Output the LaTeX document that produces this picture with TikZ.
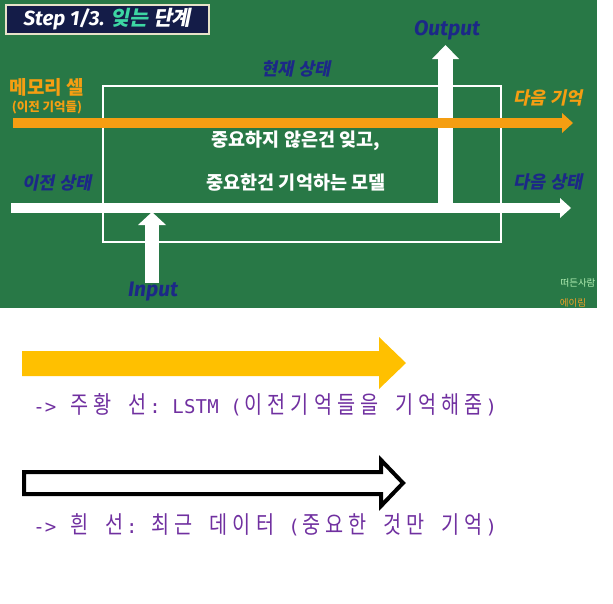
\documentclass[tikz,border=0pt]{standalone}
\usepackage{fontspec}
\usepackage{graphicx}
\setmainfont{Noto Sans CJK KR}
\newfontfamily\krfont{Noto Sans CJK KR}
\newfontfamily\krsl{Noto Sans CJK KR}[FakeSlant=0.2]
\newfontfamily\latfont{Fira Sans}
\newfontfamily\mfont{DejaVu Sans Mono}
\usetikzlibrary{arrows.meta}
\definecolor{board}{RGB}{40,120,70}
\definecolor{navylbl}{RGB}{28,40,135}
\definecolor{orangelbl}{RGB}{245,158,18}
\definecolor{titlenavy}{RGB}{20,28,72}
\definecolor{cream}{RGB}{230,226,200}
\definecolor{tealtxt}{RGB}{61,214,163}
\definecolor{legyellow}{RGB}{255,192,0}
\definecolor{legpurple}{RGB}{112,48,160}
\definecolor{wmgreen}{RGB}{180,240,180}
\definecolor{wmorange}{RGB}{240,160,40}
\newdimen\mtxw \mtxw=11.6pt
\makeatletter
\def\mtx@end{\mtx@end}
\def\mtx#1{\mtx@loop#1\mtx@end}
\def\mtx@loop#1{\ifx\mtx@end#1\else\mtx@char{#1}\expandafter\mtx@loop\fi}
\def\mtx@char#1{\ifnum`#1>255 \hbox to 2\mtxw{\hss\scalebox{0.82}[1]{\krfont\fontsize{24}{24}\selectfont#1}\hss}\else\hbox to \mtxw{\hss\mfont\fontsize{19}{19}\selectfont#1\hss}\fi}
\makeatother
\tikzset{
  navytag/.style={text=navylbl, inner sep=0pt, font=\krsl\bfseries\fontsize{17.5}{18}\selectfont},
  orangetag/.style={text=orangelbl, inner sep=0pt, font=\krsl\bfseries\fontsize{17.5}{18}\selectfont},
  ionode/.style={text=navylbl, inner sep=0pt, font=\latfont\bfseries\itshape\fontsize{21}{22}\selectfont},
  centertxt/.style={text=white, inner sep=0pt, font=\krfont\bfseries\fontsize{18.5}{19}\selectfont},
  harrow/.style={line width=10pt, -{Triangle[length=11pt,width=20pt,line width=0pt]}},
  legtxt/.style={text=legpurple, inner sep=0pt, anchor=base west}
}
\begin{document}
\begin{tikzpicture}[x=1pt,y=-1pt]
\useasboundingbox (0,0) rectangle (613,603);
% board
\fill[board] (0,0) rectangle (597,308);
% title
\node[draw=cream, line width=1.5pt, fill=titlenavy, minimum width=203pt, minimum height=29pt, inner sep=0pt, anchor=north west, text=white,
  font=\fontsize{20.5}{21}\selectfont] (title) at (5,4)
  {{\latfont\bfseries\itshape Step 1/3. }{\krsl\bfseries\color{tealtxt}잊는} {\krsl\bfseries 단계}};
% LSTM cell frame
\node[draw=white, line width=2pt, minimum width=398pt, minimum height=156pt, inner sep=0pt, anchor=north west] (cell) at (102,85) {};
% coordinates of arrows
\coordinate (os) at (445.5,203);
\coordinate (oe) at (445.5,45);
\coordinate (hs) at (11,208);
\coordinate (he) at (571,208);
\coordinate (is) at (152,283);
\coordinate (ie) at (152,212);
\coordinate (ms) at (13,123);
\coordinate (me) at (573,123);
% arrows
\draw[white, line width=15pt, -{Triangle[length=14pt,width=27pt,line width=0pt]}] (os) -- (oe);
\draw[white, harrow] (hs) -- (he);
\draw[white, line width=14pt, -{Triangle[length=13pt,width=28pt,line width=0pt]}] (is) -- (ie);
\draw[orangelbl, harrow] (ms) -- (me);
% labels
\node[text=orangelbl, inner sep=0pt, font=\krfont\bfseries\fontsize{19}{19}\selectfont] (memcell) at (47,87) {메모리 셀};
\node[text=orangelbl, inner sep=0pt, font=\krfont\bfseries\fontsize{12.5}{13}\selectfont] (prevmem) at (47,107) {(이전 기억들)};
\node[navytag] (curstate) at (296,69) {현재 상태};
\node[ionode] (output) at (447,30) {Output};
\node[orangetag] (nextmem) at (548,98) {다음 기억};
\node[navytag] (prevstate) at (57,183) {이전 상태};
\node[navytag] (nextstate) at (548,182) {다음 상태};
\node[ionode] (input) at (153,292) {Input};
\node[centertxt] (m1) at (296,141) {중요하지 않은건 잊고,};
\node[centertxt] (m2) at (296,183) {중요한건 기억하는 모델};
% watermark
\node[text=wmgreen, inner sep=0pt, font=\krfont\fontsize{9.5}{10}\selectfont] (wm1) at (578,283) {떠든사람};
\node[text=wmorange, inner sep=0pt, font=\krfont\fontsize{9.5}{10}\selectfont] (wm2) at (573,303) {에이림};
% legend
\fill[legyellow] (22,351) -- (379,351) -- (379,337) -- (406,363) -- (379,389) -- (379,376) -- (22,376) -- cycle;
\node[legtxt] (leg1) at (33,413) {\mtx{->~주황~선:~LSTM~(이전기억들을~기억해줌)}};
\filldraw[draw=black, fill=white, line width=4pt] (24,472) -- (381,472) -- (381,460) -- (403,483) -- (381,506) -- (381,494) -- (24,494) -- cycle;
\node[legtxt] (leg2) at (33,533) {\mtx{->~흰~선:~최근~데이터~(중요한~것만~기억)}};
\end{tikzpicture}
\end{document}
